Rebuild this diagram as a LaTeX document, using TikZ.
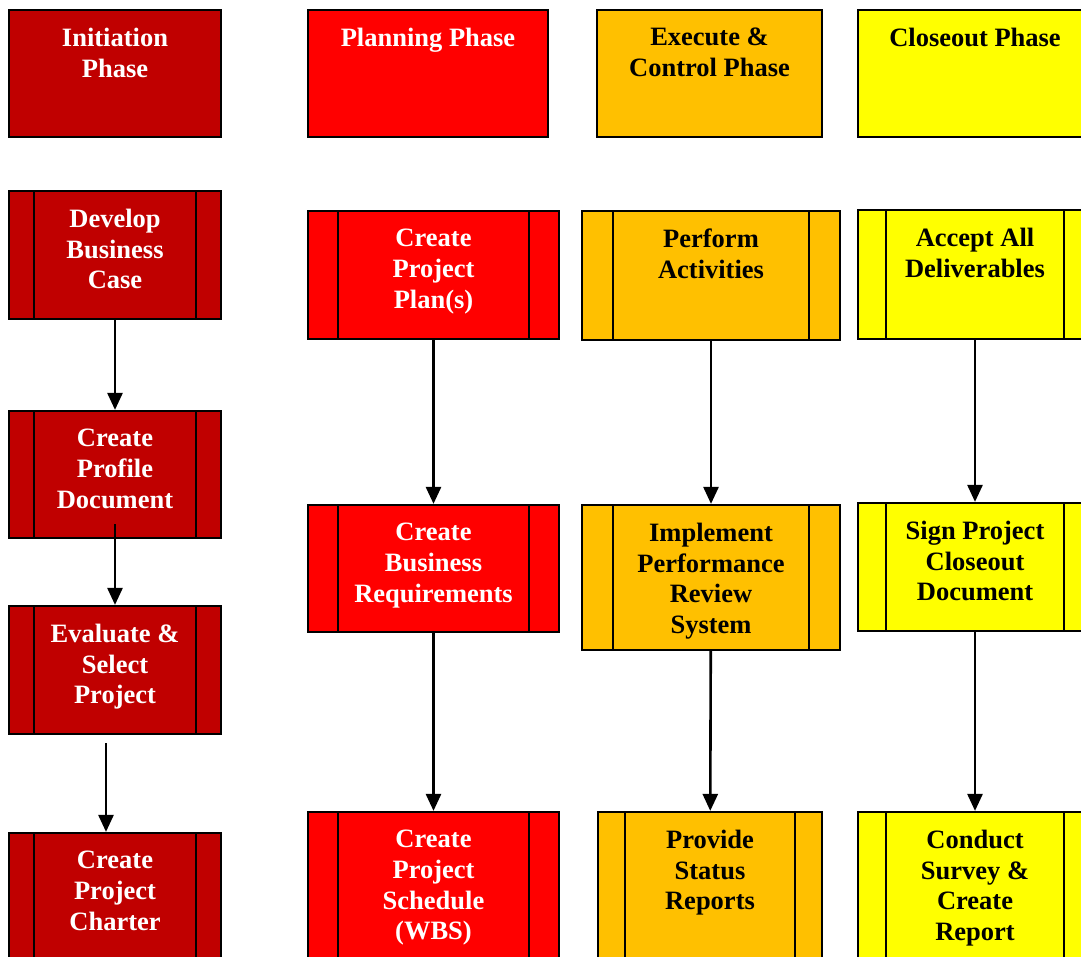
\documentclass[tikz,border=0pt]{standalone}
\usepackage{fontspec}
\setmainfont{Liberation Serif}
\usetikzlibrary{arrows.meta}
\definecolor{initred}{HTML}{C00000}
\definecolor{planred}{HTML}{FF0000}
\definecolor{execorange}{HTML}{FFC000}
\definecolor{closeyellow}{HTML}{FFFF00}
\tikzset{
  head/.style={draw, line width=2.2pt, rectangle, inner sep=0pt, minimum height=127pt},
  process/.style={head, path picture={
      \draw[line width=2.2pt] ([xshift=#1]path picture bounding box.north west) -- ([xshift=#1]path picture bounding box.south west)
        ([xshift=-#1]path picture bounding box.north east) -- ([xshift=-#1]path picture bounding box.south east);}},
  lbl/.style={anchor=north, align=center, inner xsep=0pt, inner ysep=19pt,
    font=\fontsize{26.5}{30.7}\selectfont\bfseries},
  wtxt/.style={lbl, text=white},
  btxt/.style={lbl, text=black},
  flow/.style={-{Triangle[length=17pt,width=15pt]}, line width=2.6pt}
}
\begin{document}
\begin{tikzpicture}[x=1pt,y=-1pt]
\clip (0,0) rectangle (1081,957);
\node[head,fill=initred,minimum width=212pt,label={[wtxt]north:{Initiation\\Phase}}] (hinit) at (115,73.5) {};
\node[head,fill=planred,minimum width=240pt,label={[wtxt]north:{Planning Phase}}] (hplan) at (428,73.5) {};
\node[head,fill=execorange,minimum width=225pt,label={[btxt]north:{Execute \&\\Control Phase}}] (hexec) at (709.5,73.5) {};
\node[head,fill=closeyellow,minimum width=234pt,label={[btxt]north:{Closeout Phase}}] (hclose) at (975,73.5) {};

\node[process=25pt,fill=initred,minimum width=212pt,minimum height=128pt,label={[wtxt]north:{Develop\\Business\\Case}}] (dev) at (115,255) {};
\node[process=25pt,fill=initred,minimum width=212pt,label={[wtxt]north:{Create\\Profile\\Document}}] (prof) at (115,474.5) {};
\node[process=25pt,fill=initred,minimum width=212pt,minimum height=128pt,label={[wtxt]north:{Evaluate \&\\Select\\Project}}] (eval) at (115,670) {};
\node[process=25pt,fill=initred,minimum width=212pt,minimum height=128pt,label={[wtxt]north:{Create\\Project\\Charter}}] (charter) at (115,897) {};

\node[process=30pt,fill=planred,minimum width=251pt,minimum height=128pt,label={[wtxt]north:{Create\\Project\\Plan(s)}}] (plan) at (433.5,275) {};
\node[process=30pt,fill=planred,minimum width=251pt,label={[wtxt]north:{Create\\Business\\Requirements}}] (breq) at (433.5,568.5) {};
\node[process=30pt,fill=planred,minimum width=251pt,minimum height=150pt,label={[wtxt]north:{Create\\Project\\Schedule\\(WBS)}}] (sched) at (433.5,887) {};

\node[process=31pt,fill=execorange,minimum width=258pt,minimum height=129pt,label={[btxt]north:{Perform\\Activities}}] (perf) at (711,275.5) {};
\node[process=31pt,fill=execorange,minimum width=258pt,minimum height=145pt,label={[btxt]north:{Implement\\Performance\\Review\\System}}] (impl) at (711,577.5) {};
\node[process=27pt,fill=execorange,minimum width=224pt,minimum height=150pt,label={[btxt]north:{Provide\\Status\\Reports}}] (prov) at (710,887) {};

\node[process=28pt,fill=closeyellow,minimum width=234pt,minimum height=129pt,label={[btxt]north:{Accept All\\Deliverables}}] (acc) at (975,274.5) {};
\node[process=28pt,fill=closeyellow,minimum width=234pt,minimum height=128pt,label={[btxt]north:{Sign Project\\Closeout\\Document}}] (sign) at (975,567) {};
\node[process=28pt,fill=closeyellow,minimum width=234pt,minimum height=150pt,label={[btxt]north:{Conduct\\Survey \&\\Create\\Report}}] (cond) at (975,887) {};

\foreach \a/\b in {dev/prof,plan/breq,breq/sched,perf/impl,impl/prov,acc/sign,sign/cond}
  \draw[flow] (\a) -- (\b);
\draw[flow] ([yshift=15pt]prof.south) -- (eval.north);
\draw[flow] ([xshift=-9pt,yshift=-8pt]eval.south) -- ([xshift=-9pt]charter.north);
\end{tikzpicture}
\end{document}
